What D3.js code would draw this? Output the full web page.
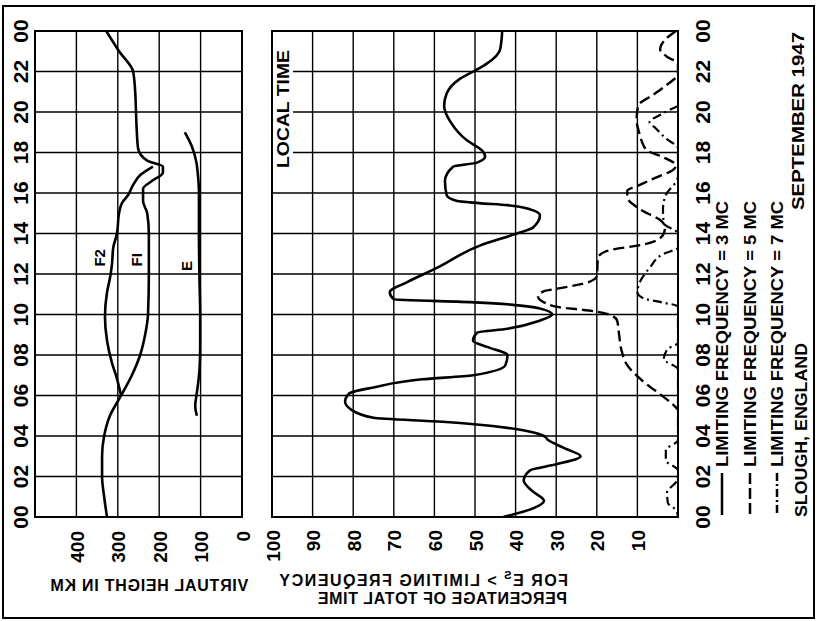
<!DOCTYPE html>
<html><head><meta charset="utf-8">
<script src="https://cdn.jsdelivr.net/npm/d3@7"></script>
<style>
body{margin:0;background:#fff}
svg{display:block}
text{font-family:"Liberation Sans",Arial,sans-serif;font-weight:bold;fill:#000}
</style>
</head><body>
<svg id="c" width="817" height="621"></svg>
<script>
// ---- tick data ----
const timeTicks = [0,2,4,6,8,10,12,14,16,18,20,22,24];
const timeLabels = ["00","02","04","06","08","10","12","14","16","18","20","22","00"];
const heightTicks = [0,100,200,300,400];
const heightLabels = ["0","100","200","300","400"];
const pctTicks = [10,20,30,40,50,60,70,80,90,100];
const pctLabels = ["10","20","30","40","50","60","70","80","90","100"];

// ---- left panel: virtual height (km) vs local time (h) ----
const layerF1 = [[0,326],[1,333],[2,338],[3,338],[4,333],[5,319],[6,292],[7,266],[8,246],[9,234],[10,227],[12,225],[14,225],[15,229],[15.6,239],[16.2,239],[16.6,217],[17.0,191],[17.3,191],[17.6,229],[18.2,251],[19,254],[20,256],[21,258],[22,263],[23,297],[24,328]];
const layerF2 = [[6,292],[6.9,303],[7.6,314],[8.7,326],[9.9,331],[11.1,326],[11.9,318],[12.5,314],[13.3,311],[14,302],[15,297],[15.5,290],[15.9,275],[16.4,263],[16.9,245],[17.3,215]];
const layerE = [[5,109],[5.5,113],[6,110],[6.6,106],[7.5,102],[8.5,101],[10,101],[12,103],[14,104],[16,104],[17,107],[17.5,110],[18.3,121],[19,138]];
const layerNames = ["F2","FI","E"];
const layerLabelPos = [[12.8,345],[12.7,255],[12.4,133]]; // [hour, km] where the name sits

// ---- right panel: percentage of total time ----
const freq3 = [[0,43],[0.4,36],[0.8,33],[1.3,36],[1.8,38],[2.3,36.5],[2.6,30],[3.0,24],[3.4,28],[3.8,32],[4.0,33],[4.4,42],[4.7,58],[4.9,75],[5.3,80.5],[5.7,82],[6.1,81],[6.4,75],[6.8,63],[7.0,50.5],[7.5,42.5],[8.0,42],[8.4,47],[8.7,50.5],[9.1,49.5],[9.3,42],[9.7,34],[10.0,31],[10.3,34],[10.6,50],[10.75,70],[11.1,71],[11.6,66.7],[12.3,59.4],[13.4,48.8],[14.0,39.7],[14.3,35.7],[14.9,34],[15.2,36.5],[15.4,42],[15.5,49],[15.6,54.4],[15.9,57],[16.6,57.4],[17.3,55.4],[17.5,49.5],[17.8,47.5],[18.1,48.3],[18.6,52],[19.5,56],[20.3,57.6],[20.9,57],[21.6,54],[22.1,49.5],[22.4,47],[23.1,43.8],[24,43.3]];
const freq5 = [[5.3,0],[5.6,1.5],[6,4],[6.6,8],[7.5,12.5],[8.3,14],[9.0,14.5],[9.7,15],[10.0,17],[10.2,22],[10.35,29],[10.6,33],[10.9,34.5],[11.15,33],[11.3,29],[11.6,22],[11.9,20],[12.8,19.7],[13.1,18],[13.25,15],[13.4,10],[13.6,6],[14.0,3.5],[14.3,3.2],[14.6,4],[15.2,9.4],[15.8,12.5],[16.1,12.5],[16.4,9.4],[16.8,5],[17.1,1.5],[17.35,0.5],[17.8,4],[18.1,7.6],[18.6,9],[19.0,9.6],[19.6,10.2],[20.1,10],[20.4,9.5],[20.8,6.5],[21.3,3],[21.9,0],[22.4,0],[22.7,2.5],[23.1,4.4],[23.5,3.5],[24,0.5]];
const freq7 = [[0,0],[0.3,0.3],[0.7,2.5],[1.2,2.7],[1.8,0.3],[2.3,0],[2.8,3],[3.3,3],[3.8,0],[7.3,0],[7.8,3.5],[8.3,2.5],[8.6,0],[10.4,0],[10.6,4],[10.8,8.5],[11.1,10],[11.6,9.4],[12.3,7],[13.0,3.5],[13.3,0],[14,0],[14.5,3.5],[15.2,3.7],[15.9,3],[16.8,0],[18.2,0],[18.7,3],[19.2,5.5],[19.5,7],[19.9,4],[20.3,0]];

const legendLabels = ["LIMITING  FREQUENCY = 3 MC","LIMITING  FREQUENCY = 5 MC","LIMITING  FREQUENCY = 7 MC"];

// ---- scales ----
const svg = d3.select("#c");
const yT = d3.scaleLinear().domain([0,24]).range([517,31]);
const xH = d3.scaleLinear().domain([0,500]).range([242,35]);
const xP = d3.scaleLinear().domain([0,100]).range([678,272]);

svg.append("rect").attr("x",3).attr("y",6).attr("width",811).attr("height",612)
  .attr("fill","none").attr("stroke","#000").attr("stroke-width",2);

const clip = svg.append("defs");
clip.append("clipPath").attr("id","cl").append("rect").attr("x",35).attr("y",31).attr("width",207).attr("height",486);
clip.append("clipPath").attr("id","cr").append("rect").attr("x",272).attr("y",31).attr("width",406).attr("height",486);

// ---- grids ----
const gL = svg.append("g");
gL.selectAll("line.v").data(heightTicks.filter(v=>v>0)).join("line")
  .attr("x1",d=>xH(d)).attr("x2",d=>xH(d)).attr("y1",yT(0)).attr("y2",yT(24))
  .attr("stroke","#000").attr("stroke-width",1.4);
gL.selectAll("line.h").data(timeTicks).join("line")
  .attr("x1",xH(500)).attr("x2",xH(0)).attr("y1",d=>yT(d)).attr("y2",d=>yT(d))
  .attr("stroke","#000").attr("stroke-width",1.4);
gL.append("rect").attr("x",xH(500)).attr("y",yT(24)).attr("width",xH(0)-xH(500)).attr("height",yT(0)-yT(24))
  .attr("fill","none").attr("stroke","#000").attr("stroke-width",2);

const gR = svg.append("g");
gR.selectAll("line.v").data(pctTicks.filter(v=>v<100)).join("line")
  .attr("x1",d=>xP(d)).attr("x2",d=>xP(d)).attr("y1",yT(0)).attr("y2",yT(24))
  .attr("stroke","#000").attr("stroke-width",1.4);
gR.selectAll("line.h").data(timeTicks).join("line")
  .attr("x1",d=>(d>=18&&d<=22)?293:xP(100)).attr("x2",xP(0)).attr("y1",d=>yT(d)).attr("y2",d=>yT(d))
  .attr("stroke","#000").attr("stroke-width",1.4);
gR.append("rect").attr("x",xP(100)).attr("y",yT(24)).attr("width",xP(0)-xP(100)).attr("height",yT(0)-yT(24))
  .attr("fill","none").attr("stroke","#000").attr("stroke-width",2);

// ---- helper for rotated text ----
function vtext(x,y,str,size,anchor,len){
  const t = svg.append("text").attr("transform",`translate(${x},${y}) rotate(-90)`)
    .attr("text-anchor",anchor).attr("dominant-baseline","central")
    .attr("font-size",size).text(str);
  if(len){t.attr("textLength",len).attr("lengthAdjust","spacingAndGlyphs");}
  return t;
}
// mirrored (left-right flipped) text
function mtext(x,y,anchor,size,ls){
  const g = svg.append("g").attr("transform",`translate(${x},${y}) scale(-1,1)`);
  return g.append("text").attr("x",0).attr("y",0).attr("text-anchor",anchor)
    .attr("font-size",size).attr("letter-spacing",ls);
}

// time labels both sides
timeTicks.forEach((t,i)=>{ vtext(20,yT(t),timeLabels[i],21,"middle"); vtext(702,yT(t),timeLabels[i],21,"middle"); });
heightTicks.forEach((h,i)=>{ vtext(xH(h)+1,531,heightLabels[i],19,"end"); });
pctTicks.forEach((p,i)=>{ vtext(xP(p)+1,530,pctLabels[i],19,"end"); });

vtext(283,168,"LOCAL  TIME",16,"start",118);

// mirrored axis titles
mtext(149,591,"middle",16,0.74).text("VIRTUAL HEIGHT IN KM");
const t2 = mtext(568,586,"start",16,1.5);
t2.append("tspan").text("FOR E");
t2.append("tspan").attr("font-size",11).attr("dy",-7).text("S");
t2.append("tspan").attr("dy",7).text(" > LIMITING FREQUENCY");
mtext(567,604,"start",16,0.6).text("PERCENTAGE OF TOTAL TIME");

// curve labels
layerNames.forEach((n,i)=>{ vtext(xH(layerLabelPos[i][1]),yT(layerLabelPos[i][0]),n,15,"middle"); });

// ---- curves ----
const byY = a => a.slice().sort((p,q)=>q[0]-p[0]);
const lineH = d3.line().x(d=>xH(d[1])).y(d=>yT(d[0])).curve(d3.curveMonotoneY);
const lineP = d3.line().x(d=>xP(d[1])).y(d=>yT(d[0])).curve(d3.curveMonotoneY);

const cL = svg.append("g").attr("clip-path","url(#cl)");
[layerF1,layerF2,layerE].forEach(a=>{
  cL.append("path").attr("d",lineH(byY(a))).attr("fill","none").attr("stroke","#000").attr("stroke-width",2.6);
});

const cR = svg.append("g").attr("clip-path","url(#cr)");
cR.append("path").attr("d",lineP(byY(freq3))).attr("fill","none").attr("stroke","#000").attr("stroke-width",2.6);
cR.append("path").attr("d",lineP(byY(freq5))).attr("fill","none").attr("stroke","#000").attr("stroke-width",2.4).attr("stroke-dasharray","11,5");
cR.append("path").attr("d",lineP(byY(freq7))).attr("fill","none").attr("stroke","#000").attr("stroke-width",2.2).attr("stroke-dasharray","9,4,2,4");

// ---- legend ----
const legX = [722,750,777];
const dashes = [null,"11,4","8,3,2,3"];
legX.forEach((x,i)=>{
  const l = svg.append("line").attr("x1",x).attr("x2",x).attr("y1",473).attr("y2",515)
    .attr("stroke","#000").attr("stroke-width",2.5);
  if(dashes[i]) l.attr("stroke-dasharray",dashes[i]);
  vtext(x,467,legendLabels[i],16,"start",266);
});
vtext(801,517,"SLOUGH, ENGLAND",16,"start",174);
vtext(798,210,"SEPTEMBER  1947",17,"start",178);
</script>
</body></html>
